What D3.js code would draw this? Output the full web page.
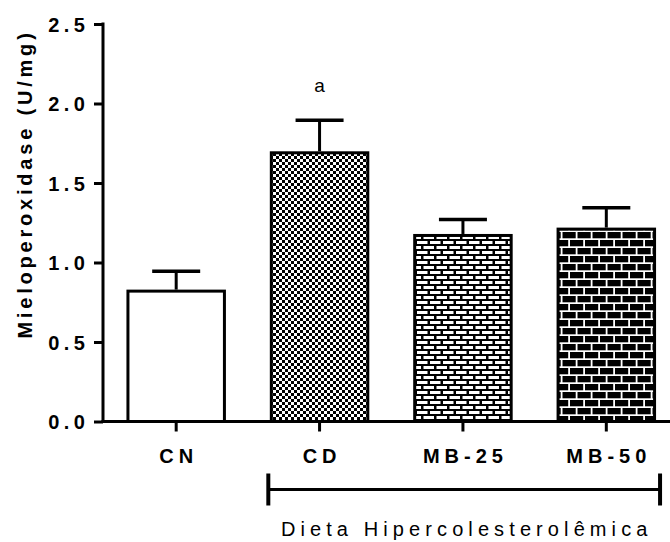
<!DOCTYPE html>
<html lang="en">
<head>
    <meta charset="UTF-8">
    <title>Mieloperoxidase</title>
    <script src="https://d3js.org/d3.v7.min.js"></script>
    <style>
        body {
            margin: 0;
            background-color: #ffffff;
            font-family: "Liberation Sans", Arial, sans-serif;
        }
    </style>
</head>
<body>
    <svg id="chart" width="670" height="542"></svg>
    <script>
        // Data
        const groups = ["CN", "CD", "MB-25", "MB-50"];
        const means = [0.82, 1.69, 1.17, 1.21];
        const sems = [0.125, 0.205, 0.10, 0.135];
        const fills = ["white", "url(#checker)", "url(#brickLight)", "url(#brickDark)"];
        const yTicks = [0.0, 0.5, 1.0, 1.5, 2.0, 2.5];
        const marks = ["", "a", "", ""];

        const svg = d3.select("#chart");

        // Patterns
        const defs = svg.append("defs");

        const checker = defs.append("pattern")
            .attr("id", "checker")
            .attr("patternUnits", "userSpaceOnUse")
            .attr("width", 6).attr("height", 6);
        checker.append("rect").attr("width", 6).attr("height", 6).attr("fill", "white");
        checker.append("rect").attr("x", 0).attr("y", 0).attr("width", 3).attr("height", 3).attr("fill", "black");
        checker.append("rect").attr("x", 3).attr("y", 3).attr("width", 3).attr("height", 3).attr("fill", "black");

        // white bricks, black mortar
        const bl = defs.append("pattern")
            .attr("id", "brickLight")
            .attr("patternUnits", "userSpaceOnUse")
            .attr("width", 13).attr("height", 10);
        bl.append("rect").attr("width", 13).attr("height", 10).attr("fill", "black");
        bl.append("rect").attr("x", 1).attr("y", 1).attr("width", 10.5).attr("height", 3).attr("fill", "white");
        bl.append("rect").attr("x", -5.5).attr("y", 6).attr("width", 10.5).attr("height", 3).attr("fill", "white");
        bl.append("rect").attr("x", 7.5).attr("y", 6).attr("width", 10.5).attr("height", 3).attr("fill", "white");

        // black bricks, white mortar
        const bd = defs.append("pattern")
            .attr("id", "brickDark")
            .attr("patternUnits", "userSpaceOnUse")
            .attr("width", 15).attr("height", 16);
        bd.append("rect").attr("width", 15).attr("height", 16).attr("fill", "white");
        bd.append("rect").attr("x", 0).attr("y", 0).attr("width", 13.2).attr("height", 6.3).attr("fill", "black");
        bd.append("rect").attr("x", -7.5).attr("y", 8).attr("width", 13.2).attr("height", 6.3).attr("fill", "black");
        bd.append("rect").attr("x", 7.5).attr("y", 8).attr("width", 13.2).attr("height", 6.3).attr("fill", "black");

        // Scales
        const x = d3.scaleBand()
            .domain(groups)
            .range([104.5, 678])
            .paddingInner(0.327)
            .paddingOuter(0.1635);

        const y = d3.scaleLinear()
            .domain([0, 2.5])
            .range([421.5, 24]);

        // Bars
        svg.selectAll(".bar")
            .data(groups)
            .enter()
            .append("rect")
            .attr("class", "bar")
            .attr("x", d => x(d))
            .attr("y", (d, i) => y(means[i]))
            .attr("width", x.bandwidth())
            .attr("height", (d, i) => y(0) - y(means[i]))
            .attr("fill", (d, i) => fills[i])
            .attr("stroke", "black")
            .attr("stroke-width", 3);

        // Error bars (upper only)
        const capHalf = 24;
        const err = svg.selectAll(".err")
            .data(groups)
            .enter()
            .append("g")
            .attr("class", "err");
        err.append("line")
            .attr("x1", d => x(d) + x.bandwidth() / 2)
            .attr("x2", d => x(d) + x.bandwidth() / 2)
            .attr("y1", (d, i) => y(means[i]) - 1.5)
            .attr("y2", (d, i) => y(means[i] + sems[i]))
            .attr("stroke", "black")
            .attr("stroke-width", 3);
        err.append("line")
            .attr("x1", d => x(d) + x.bandwidth() / 2 - capHalf)
            .attr("x2", d => x(d) + x.bandwidth() / 2 + capHalf)
            .attr("y1", (d, i) => y(means[i] + sems[i]))
            .attr("y2", (d, i) => y(means[i] + sems[i]))
            .attr("stroke", "black")
            .attr("stroke-width", 3.5);

        // Significance marks
        svg.selectAll(".mark")
            .data(groups)
            .enter()
            .append("text")
            .attr("x", d => x(d) + x.bandwidth() / 2)
            .attr("y", (d, i) => y(means[i] + sems[i]) - 28)
            .attr("text-anchor", "middle")
            .attr("font-size", 19)
            .text((d, i) => marks[i]);

        // Y axis
        const yAxis = svg.append("g")
            .attr("transform", "translate(103,0)")
            .call(d3.axisLeft(y).tickValues(yTicks).tickFormat(d3.format(".1f")).tickSize(9).tickSizeOuter(0));
        yAxis.select(".domain").attr("stroke-width", 3).attr("d", `M0,${y(2.5) - 1.5}V${y(0) + 1.5}`);
        yAxis.selectAll(".tick line").attr("stroke-width", 3);
        yAxis.selectAll(".tick text")
            .attr("x", -13.5)
            .attr("dy", "0.36em")
            .attr("fill", "black")
            .style("font-family", "'Liberation Sans', Arial, sans-serif")
            .style("font-size", "20px")
            .style("font-weight", "bold")
            .style("letter-spacing", "4.5px");

        // X axis
        const xAxis = svg.append("g")
            .attr("transform", `translate(0,${y(0)})`)
            .call(d3.axisBottom(x).tickSize(10).tickSizeOuter(0));
        xAxis.select(".domain").attr("stroke-width", 3).attr("d", "M101.5,0H670");
        xAxis.selectAll(".tick line").attr("stroke-width", 3);
        xAxis.selectAll(".tick text")
            .attr("y", 27)
            .attr("dx", "2.5px")
            .attr("fill", "black")
            .style("font-family", "'Liberation Sans', Arial, sans-serif")
            .style("font-size", "20px")
            .style("font-weight", "bold")
            .style("letter-spacing", "5px");

        // Y title
        svg.append("text")
            .attr("transform", "translate(32,184) rotate(-90)")
            .attr("text-anchor", "middle")
            .attr("font-size", 20)
            .attr("font-weight", "bold")
            .attr("letter-spacing", "3.8px")
            .text("Mieloperoxidase (U/mg)");

        // Bracket for hypercholesterolemic diet groups
        const bx1 = x("CD") - 3;
        const bx2 = x("MB-50") + x.bandwidth() + 5.5;
        const by = 489.5;
        svg.append("line")
            .attr("x1", bx1).attr("x2", bx2)
            .attr("y1", by).attr("y2", by)
            .attr("stroke", "black").attr("stroke-width", 3);
        [bx1, bx2].forEach(bx => {
            svg.append("line")
                .attr("x1", bx).attr("x2", bx)
                .attr("y1", by - 16).attr("y2", by + 16)
                .attr("stroke", "black").attr("stroke-width", 4);
        });
        svg.append("text")
            .attr("x", (bx1 + bx2) / 2 + 2.5)
            .attr("y", 535.5)
            .attr("text-anchor", "middle")
            .attr("font-size", 20)
            .attr("letter-spacing", "5.1px")
            .text("Dieta Hipercolesterolêmica");
    </script>
</body>
</html>
